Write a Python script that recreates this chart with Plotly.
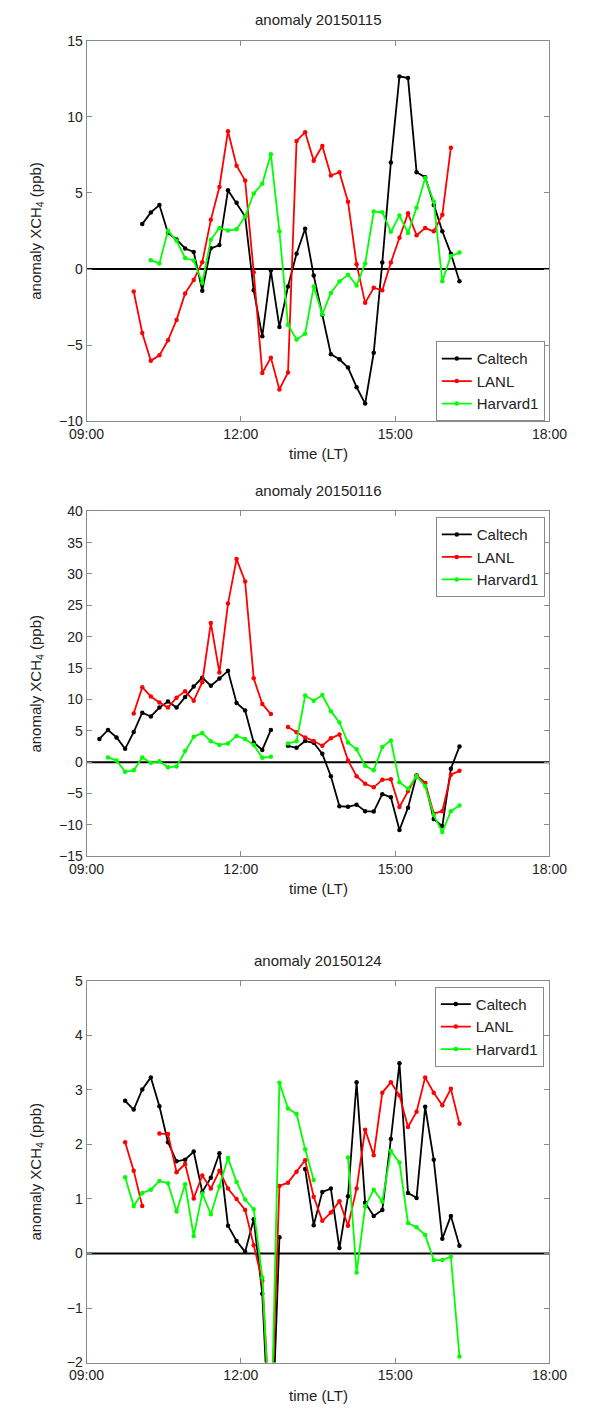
import plotly.graph_objects as go

# ---------------- data ----------------
TIMES = ["09:15", "09:25", "09:35", "09:45", "09:55", "10:05", "10:15", "10:25", "10:35", "10:45",
         "10:55", "11:05", "11:15", "11:25", "11:35", "11:45", "11:55", "12:05", "12:15", "12:25",
         "12:35", "12:45", "12:55", "13:05", "13:15", "13:25", "13:35", "13:45", "13:55", "14:05",
         "14:15", "14:25", "14:35", "14:45", "14:55", "15:05", "15:15", "15:25", "15:35", "15:45",
         "15:55", "16:05", "16:15"]

DAYS = ["20150115", "20150116", "20150124"]
SERIES = ["Caltech", "LANL", "Harvard1"]
X_TICKS = ["09:00", "12:00", "15:00", "18:00"]

caltech_0115 = [None, None, None, None, None,
                2.95, 3.72, 4.20, 2.37, 1.94, 1.35, 1.12, -1.42, 1.36, 1.57,
                5.17, 4.35, 3.45, -1.40, -4.42, -0.10, -3.81, -1.14, 1.01, 2.65,
                -0.43, -3.0, -5.60, -5.93, -6.47, -7.76, -8.84, -5.50, 0.43, 7.0,
                12.65, 12.54, 6.36, 6.03, 4.20, 2.48, 1.01, -0.80]
lanl_0115 = [None, None, None, None,
             -1.47, -4.2, -6.03, -5.67, -4.68, -3.34, -1.6, -0.72, 0.45, 3.23,
             5.39, 9.05, 6.79, 5.82, -0.22, -6.83, -5.82, -7.91, -6.79, 8.41,
             8.99, 7.11, 8.08, 6.14, 6.36, 4.42, 0.32, -2.22, -1.23, -1.40,
             0.43, 2.05, 3.66, 2.22, 2.69, 2.48, 3.56, 7.97, None]
harvard_0115 = [None, None, None, None, None, None,
                0.58, 0.37, 2.52, 1.85, 0.72, 0.56, -0.90, 1.92, 2.70, 2.53,
                2.61, 3.45, 4.96, 5.60, 7.54, 2.48, -3.66, -4.63, -4.25, -1.14,
                -2.97, -1.57, -0.82, -0.37, -1.08, 0.37, 3.77, 3.73, 2.44, 3.51,
                2.37, 4.03, 5.97, 4.42, -0.80, 0.86, 1.08]

caltech_0116 = [3.71, 5.14, 3.95, 2.14, 4.81, 7.90, 7.29, 8.71, 9.67, 8.71,
                10.38, 12.05, 13.48, 12.19, 13.33, 14.57, 9.43, 8.24, 3.14, 1.95,
                5.14, None, 2.62, 2.29, 3.38, 3.1, 1.33, -2.24, -7.0, -7.1,
                -6.76, -7.81, -7.86, -5.10, -5.57, -10.8, -7.24, -2.10, -3.33, -9.05,
                -10.2, -1.05, 2.52]
lanl_0116 = [None, None, None, None,
             7.76, 11.95, 10.48, 9.52, 8.71, 10.29, 11.33, 9.81, 12.76, 22.19,
             14.29, 25.29, 32.38, 28.81, 13.38, 9.29, 7.67, None, 5.62, 4.76,
             3.95, 3.38, 2.62, 3.81, 4.43, 0.29, -2.24, -3.43, -4.0, -2.8,
             -2.7, -7.14, -4.6, -2.14, -3.33, -8.19, -7.81, -2.0, -1.38]
harvard_0116 = [None,
                0.76, 0.29, -1.52, -1.29, 0.76, -0.10, 0.14, -0.81, -0.67, 1.81,
                4.05, 4.67, 3.33, 2.76, 3.0, 4.19, 3.71, 2.76, 0.71, 0.86,
                None, 3.0, 3.33, 10.62, 9.81, 10.71, 8.14, 6.33, 3.14, 2.05,
                -0.57, -1.29, 2.43, 3.48, -3.19, -4.24, -2.24, -3.81, -8.43, -11.14,
                -7.81, -6.90]

caltech_0124 = [None, None, None,
                2.80, 2.64, 3.01, 3.23, 2.70, 2.04, 1.69, 1.72, 1.87, 1.13,
                1.39, 1.84, 0.51, 0.23, 0.03, 0.63, -0.74, -4.0, 0.30, None,
                None, 1.55, 0.52, 1.13, 1.19, 0.10, 1.05, 3.14, 0.93, 0.69,
                0.80, 2.10, 3.49, 1.11, 1.02, 2.69, 1.72, 0.27, 0.69, 0.14]
lanl_0124 = [None, None, None,
             2.04, 1.52, 0.87, None, 2.20, 2.19, 1.49, 1.64, 1.01, 1.43,
             1.19, 1.52, 1.19, 1.00, 0.80, 0.15, -0.50, -3.3, 1.24, 1.30,
             1.50, 1.71, 1.04, 0.60, 0.75, 0.96, 0.51, 1.19, 2.27, 1.80,
             2.95, 3.14, 2.90, 2.32, 2.60, 3.23, 2.95, 2.72, 3.02, 2.38]
harvard_0124 = [None, None, None,
                1.40, 0.87, 1.11, 1.17, 1.33, 1.29, 0.77, 1.27, 0.32, 1.10,
                0.72, 1.23, 1.75, 1.31, 0.99, 0.81, -0.44, -3.5, 3.13, 2.66,
                2.56, 1.91, 1.35, None, None, None, 1.76, -0.35, 0.86, 1.17,
                0.95, 1.88, 1.67, 0.56, 0.48, 0.34, -0.12, -0.12, -0.06, -1.89]

PANEL_DATA = [
    [caltech_0115, lanl_0115, harvard_0115],
    [caltech_0116, lanl_0116, harvard_0116],
    [caltech_0124, lanl_0124, harvard_0124],
]
Y_RANGES = [(-10, 15, 5), (-15, 40, 5), (-2, 5, 1)]

# ---------------- layout constants ----------------
W, H = 590, 1418
XL, XR = 73, 566
PANELS_PX = [(33, 418), (509, 858), (984, 1370)]
LEGEND_PX = [(561, 418, "bottom"), (561, 515, "top"), (560, 990, "top")]
COLORS = ["#000000", "#ff0000", "#00ff00"]
FONT = "Liberation Sans, Arial, sans-serif"
AX_COLOR = "#8a8a8a"

BASE_DAY = "2015-01-01 "
xs = [BASE_DAY + t for t in TIMES]
tickvals = [BASE_DAY + t for t in X_TICKS]

fig = go.Figure()
layout = dict(
    width=W, height=H,
    margin=dict(l=0, r=0, t=0, b=0),
    paper_bgcolor="white", plot_bgcolor="white",
    font=dict(family=FONT, size=14, color="#222222"),
    showlegend=True,
)
annotations = []
shapes = []

for i in range(3):
    top, bot = PANELS_PX[i]
    sfx = "" if i == 0 else str(i + 1)
    xa, ya = "x" + sfx, "y" + sfx
    leg = "legend" + sfx
    for j in range(3):
        fig.add_trace(go.Scatter(
            x=xs, y=PANEL_DATA[i][j], name=SERIES[j], mode="lines+markers",
            line=dict(color=COLORS[j], width=1.8),
            marker=dict(color=COLORS[j], size=4.5),
            xaxis=xa, yaxis=ya, legend=leg, connectgaps=False,
        ))
    ymin, ymax, ystep = Y_RANGES[i]
    layout["xaxis" + sfx] = dict(
        domain=[XL / W, XR / W], anchor=ya, type="date",
        range=[BASE_DAY + "09:00", BASE_DAY + "18:00"],
        tickvals=tickvals, ticktext=X_TICKS,
        ticks="inside", ticklen=5, tickcolor=AX_COLOR,
        showline=True, linecolor=AX_COLOR, linewidth=1, mirror="allticks",
        showgrid=False, zeroline=False,
        tickfont=dict(size=14, color="#222222"),
    )
    layout["yaxis" + sfx] = dict(
        domain=[1 - bot / H, 1 - top / H], anchor=xa,
        range=[ymin, ymax], dtick=ystep, tick0=0,
        ticks="inside", ticklen=5, tickcolor=AX_COLOR,
        showline=True, linecolor=AX_COLOR, linewidth=1, mirror="allticks",
        showgrid=False, zeroline=False,
        tickfont=dict(size=14, color="#222222"),
    )
    lx, ly, lanchor = LEGEND_PX[i]
    layout[leg] = dict(
        x=lx / W, y=1 - ly / H, xanchor="right", yanchor=lanchor,
        xref="paper", yref="paper",
        bgcolor="white", bordercolor=AX_COLOR, borderwidth=1,
        font=dict(size=15, color="#222222", family=FONT),
        tracegroupgap=0, itemwidth=30,
    )
    shapes.append(dict(type="line", xref=xa + " domain", x0=0, x1=1,
                       yref=ya, y0=0, y1=0, line=dict(color="black", width=2), layer="below"))
    annotations.append(dict(text="anomaly " + DAYS[i], xref="paper", yref="paper",
                            x=(XL + XR) / 2 / W, y=1 - (top - 21) / H, showarrow=False,
                            xanchor="center", yanchor="middle",
                            font=dict(size=15, color="#222222")))
    annotations.append(dict(text="time (LT)", xref="paper", yref="paper",
                            x=(XL + XR) / 2 / W, y=1 - (bot + 33) / H, showarrow=False,
                            xanchor="center", yanchor="middle",
                            font=dict(size=15, color="#222222")))
    annotations.append(dict(text="anomaly XCH<sub>4</sub> (ppb)", xref="paper", yref="paper",
                            x=20 / W, y=1 - (top + bot) / 2 / H, showarrow=False,
                            textangle=-90, xanchor="center", yanchor="middle",
                            font=dict(size=15, color="#222222")))

layout["annotations"] = annotations
layout["shapes"] = shapes
fig.update_layout(**layout)
fig.write_html("out.html",
               config={"displayModeBar": False},
               post_script="document.body.style.margin='0';document.body.style.padding='0';")
